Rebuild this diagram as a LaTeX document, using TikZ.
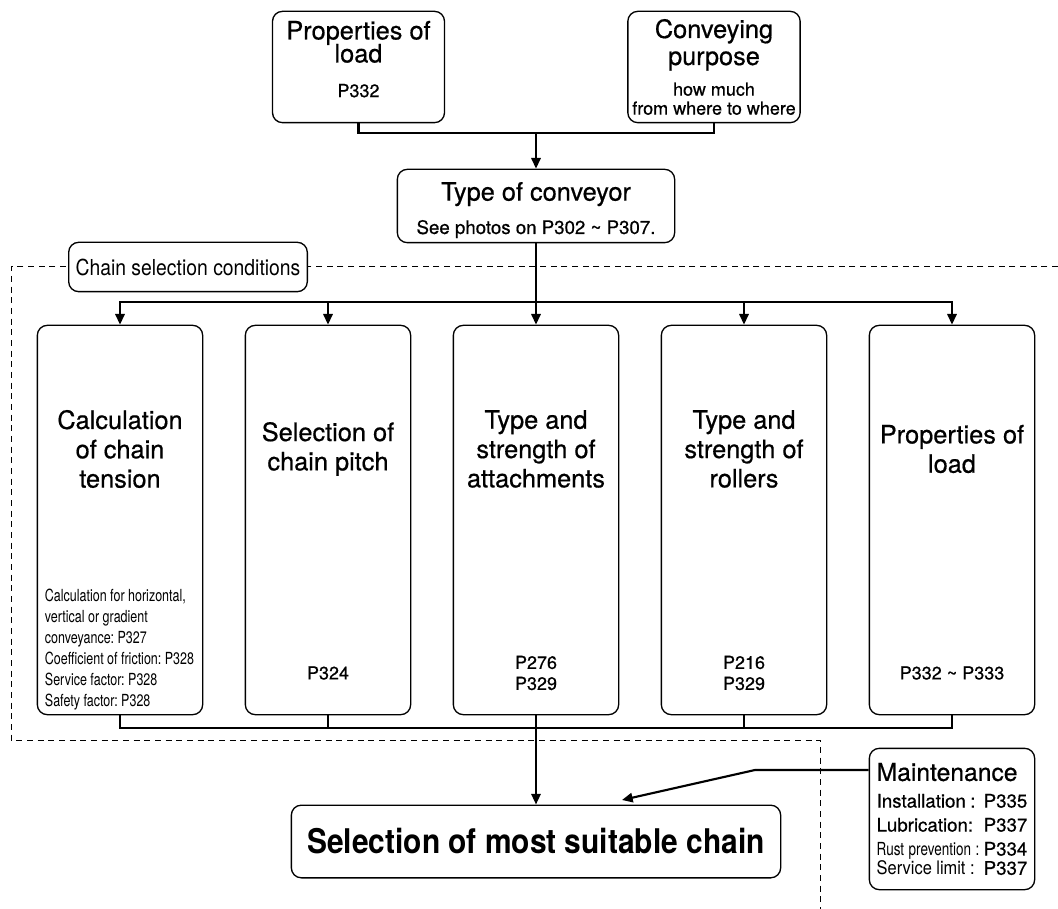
\documentclass[tikz,border=0pt]{standalone}
\usepackage{fontspec}
\setmainfont{TeX Gyre Heros}[FakeBold=0.6]
\newfontfamily\narrowfont[FakeStretch=0.75]{TeX Gyre Heros}
\newfontfamily\semifont[FakeStretch=0.88]{TeX Gyre Heros}
\newcommand\smalltxt{\fontsize{13.5}{16}\selectfont}
\frenchspacing
\usetikzlibrary{arrows.meta, positioning}

\begin{document}
\begin{tikzpicture}[
    x=0.75pt, y=-0.75pt,
    node distance=31pt,
    box/.style={rectangle, draw=black, line width=1pt, fill=white,
                rounded corners=7.5pt, align=center},
    inbox/.style={box, minimum width=129pt, minimum height=83.5pt,
                  font={\fontsize{19}{17.25}\selectfont\lineskiplimit-20pt}},
    col/.style={box, minimum width=124pt, minimum height=292pt},
    ttl/.style={align=center, font=\fontsize{19}{22}\selectfont},
    ref/.style={align=center, font=\fontsize{13.5}{15.75}\selectfont},
    note/.style={align=left, inner sep=0pt, font=\narrowfont\fontsize{12.5}{15.75}\selectfont},
    line/.style={line width=1.6pt},
    arrow/.style={line, -{Triangle[length=8pt, width=7pt]}},
    frame/.style={line width=0.75pt, dash pattern=on 4.5pt off 3.5pt}
]
    \useasboundingbox (0,0) rectangle (1058,909);
    \draw[frame] (1058,267) -- (11,267) -- (11,740) -- (820,740) -- (820,909);

    % inputs
    \node[inbox] (load) at (358.5,67)
        {Properties of\\load\\[8.75pt]\smalltxt P332\\[-5.25pt]\mbox{}};
    \node[inbox] (purpose) at (714,67)
        {Conveying\\[3pt]purpose\\[5.75pt]\smalltxt how much\\[-3pt]\smalltxt from where to where};
    \node[box, minimum width=208pt, minimum height=55pt,
          font=\fontsize{19}{22}\selectfont] (conveyor) at (536,206)
        {\mbox{}\\[-2pt]Type of conveyor\\[3pt]\fontsize{14}{16}\selectfont See photos on P302 \textasciitilde{} P307.};

    \node[box, minimum width=179pt, minimum height=37pt,
          font=\semifont\fontsize{16.5}{18}\selectfont] (cond) at (188,267) {Chain selection conditions};

    % selection conditions
    \node[col] (tension) at (120,520) {};
    \node[col, right=of tension] (pitch) {};
    \node[col, right=of pitch] (attach) {};
    \node[col, right=of attach] (rollers) {};
    \node[col, right=of rollers] (props) {};

    \coordinate (titlerow) at (0,449);
    \coordinate (refrow) at (0,673);
    \node[ttl] (tensionT) at (tension |- titlerow) {Calculation\\of chain\\tension};
    \node[ttl] (pitchT) at (pitch |- titlerow) {Selection of\\chain pitch};
    \node[ttl] (attachT) at (attach |- titlerow) {Type and\\strength of\\attachments};
    \node[ttl] (rollersT) at (rollers |- titlerow) {Type and\\strength of\\rollers};
    \node[ttl] (propsT) at (props |- titlerow) {Properties of\\load};

    \node[note, anchor=south west] (tensionN) at ([shift={(6pt,3.5pt)}]tension.south west)
        {Calculation for horizontal,\\vertical or gradient\\conveyance: P327\\Coefficient of friction: P328\\Service factor: P328\\Safety factor: P328};
    \node[ref] (pitchR) at (pitch |- refrow) {P324};
    \node[ref] (attachR) at (attach |- refrow) {P276\\P329};
    \node[ref] (rollersR) at (rollers |- refrow) {P216\\P329};
    \node[ref] (propsR) at (props |- refrow) {P332 \textasciitilde{} P333};

    % result
    \node[box, minimum width=367pt, minimum height=54.5pt,
          font=\semifont\bfseries\fontsize{25.5}{28}\selectfont] (select) at (536,841.5)
        {Selection of most suitable chain};
    \node[box, text width=113pt, align=left, inner xsep=5.5pt, minimum height=106pt] (maint) at (952,819)
        {\fontsize{18.5}{20}\selectfont Maintenance\\[2pt]\fontsize{14}{18}\selectfont
         Installation :\hfill P335\\Lubrication:\hfill P337\\{\narrowfont\fontsize{13.5}{18}\selectfont Rust prevention :}\hfill P334\\{\semifont Service limit :}\hfill P337};

    % connectors
    \coordinate (topjoin) at (536,133);
    \draw[line] (load.south) |- (topjoin) -| (purpose.south);
    \draw[arrow] (topjoin) -- (conveyor.north);
    \coordinate (split) at (536,302);
    \draw[line] (conveyor.south) -- (split);
    \foreach \n in {tension, pitch, attach, rollers, props}
        \draw[arrow] (split) -| (\n.north);
    \coordinate (merge) at (536,728);
    \foreach \n in {tension, pitch, rollers, props}
        \draw[line] (\n.south) |- (merge);
    \draw[arrow] (attach.south) -- (select.north);
    \coordinate (bend) at (755,770);
    \coordinate (tip) at (622,800);
    \draw[arrow] (maint.west |- bend) -- (bend) -- (tip);
\end{tikzpicture}
\end{document}
